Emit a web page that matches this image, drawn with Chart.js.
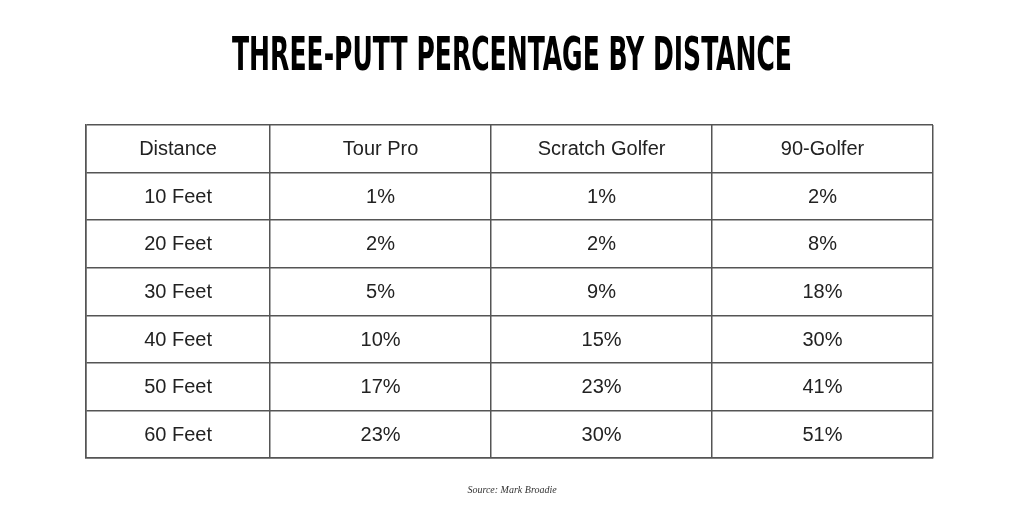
<!DOCTYPE html>
<html><head><meta charset="utf-8">
<script src="https://cdn.jsdelivr.net/npm/chart.js@4"></script>
<style>html,body{margin:0;padding:0;background:#fff}#w{width:1024px;height:512px}</style>
</head><body><div id="w"><canvas id="c"></canvas></div>
<script>
const title = "THREE-PUTT PERCENTAGE BY DISTANCE";
const source = "Source: Mark Broadie";
const headers = ["Distance","Tour Pro","Scratch Golfer","90-Golfer"];
const distances = ["10 Feet","20 Feet","30 Feet","40 Feet","50 Feet","60 Feet"];
const tourPro = [1,2,5,10,17,23];
const scratch = [1,2,9,15,23,30];
const golfer90 = [2,8,18,30,41,51];
const colEdges = [0,0.833,1.833,2.833,3.833];

const rows = [headers].concat(distances.map((d,i)=>[d,tourPro[i]+"%",scratch[i]+"%",golfer90[i]+"%"]));
const pts = [];
rows.forEach((r,ri)=>r.forEach((t,ci)=>pts.push({x:(colEdges[ci]+colEdges[ci+1])/2,y:ri+0.5,t})));

const textPlugin = {
  id:'tbl',
  afterDraw(chart){
    const ctx=chart.ctx, xs=chart.scales.x, ys=chart.scales.y;
    ctx.save();
    ctx.fillStyle='#222';ctx.textAlign='center';ctx.textBaseline='middle';
    ctx.font='20px "Liberation Sans", Arial, sans-serif';
    chart.data.datasets[0].data.forEach(p=>ctx.fillText(p.t,xs.getPixelForValue(p.x),ys.getPixelForValue(p.y)+1));
    ctx.fillStyle='#000';
    ctx.font='bold 46px "DejaVu Sans Condensed", sans-serif';
    const w=ctx.measureText(title).width;
    ctx.save();ctx.translate(512,58);ctx.scale(560/w,1);ctx.fillText(title,0,0);ctx.restore();
    ctx.fillStyle='#333';ctx.font='italic 10px "Liberation Serif", serif';
    ctx.fillText(source,512,490);
    ctx.restore();
  }
};

new Chart(document.getElementById('c'),{
  type:'scatter',
  data:{datasets:[{data:pts,pointRadius:0,pointHoverRadius:0}]},
  options:{
    responsive:true,maintainAspectRatio:false,animation:false,
    layout:{padding:{left:86,right:91,top:125,bottom:54}},
    plugins:{legend:{display:false},tooltip:{enabled:false}},
    scales:{
      x:{type:'linear',min:0,max:colEdges[colEdges.length-1],
        afterBuildTicks:s=>{s.ticks=colEdges.map(v=>({value:v}));},
        ticks:{display:false},grid:{color:'#555',lineWidth:1.5,drawTicks:false},border:{color:'#555',width:1.5}},
      y:{type:'linear',min:0,max:rows.length,reverse:true,
        afterBuildTicks:s=>{s.ticks=rows.map((r,i)=>({value:i})).concat([{value:rows.length}]);},
        ticks:{display:false},grid:{color:'#555',lineWidth:1.5,drawTicks:false},border:{color:'#555',width:1.5}}
    }
  },
  plugins:[textPlugin]
});
</script></body></html>
